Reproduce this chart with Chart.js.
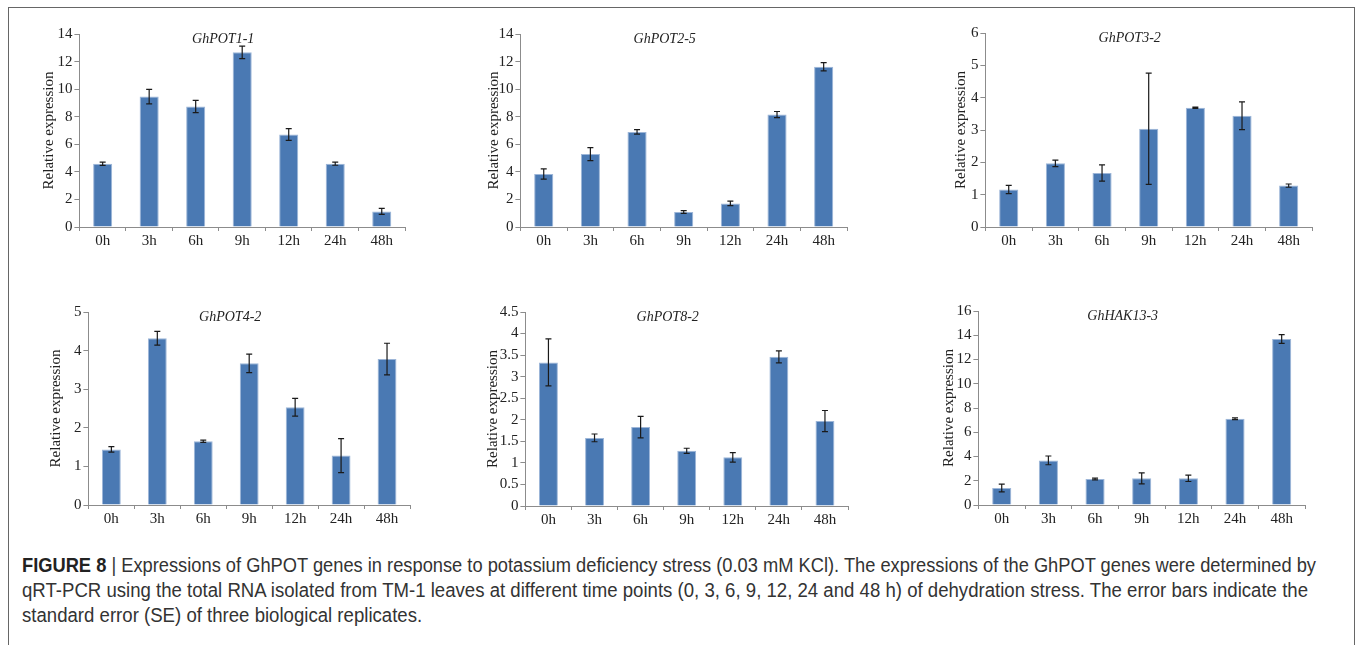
<!DOCTYPE html>
<html>
<head>
<meta charset="utf-8">
<script src="https://cdn.jsdelivr.net/npm/chart.js@4.4.1/dist/chart.umd.min.js"></script>
<style>
  body { margin: 0; background: #fff; width: 1358px; height: 645px; overflow: hidden; position: relative; }
  #frame { position: absolute; left: 8px; top: 7px; width: 1347px; height: 700px; border: 1px solid #666; box-sizing: border-box; }
  canvas { position: absolute; }
  #caption {
    position: absolute; left: 22px; top: 553px;
    font-family: "Liberation Sans", Arial, sans-serif;
    font-size: 20px; line-height: 25px; color: #333;
  }
  #caption span { display: block; white-space: nowrap; transform-origin: 0 50%; width: max-content; }
  #caption b { color: #222; }
</style>
</head>
<body>
<div id="frame"></div>
<div id="caption">
  <span data-w="1294"><b>FIGURE 8</b> | Expressions of GhPOT genes in response to potassium deficiency stress (0.03 mM KCl). The expressions of the GhPOT genes were determined by</span>
  <span data-w="1286">qRT-PCR using the total RNA isolated from TM-1 leaves at different time points (0, 3, 6, 9, 12, 24 and 48 h) of dehydration stress. The error bars indicate the</span>
  <span>standard error (SE) of three biological replicates.</span>
</div>
<script>
const timePoints = ['0h', '3h', '6h', '9h', '12h', '24h', '48h'];
const genes = ['GhPOT1-1', 'GhPOT2-5', 'GhPOT3-2', 'GhPOT4-2', 'GhPOT8-2', 'GhHAK13-3'];

const pot11 = [4.59, 9.46, 8.74, 12.67, 6.71, 4.59, 1.13];
const pot11Err = [0.12, 0.53, 0.45, 0.45, 0.42, 0.11, 0.22];
const pot25 = [3.84, 5.29, 6.90, 1.09, 1.71, 8.16, 11.63];
const pot25Err = [0.37, 0.47, 0.17, 0.10, 0.16, 0.22, 0.30];
const pot32 = [1.16, 1.97, 1.67, 3.04, 3.69, 3.44, 1.28];
const pot32Err = [0.13, 0.10, 0.25, 1.72, 0.02, 0.43, 0.05];
const pot42 = [1.44, 4.32, 1.65, 3.67, 2.53, 1.28, 3.78];
const pot42Err = [0.07, 0.18, 0.03, 0.24, 0.23, 0.44, 0.41];
const pot82 = [3.33, 1.58, 1.83, 1.28, 1.13, 3.46, 1.97];
const pot82Err = [0.545, 0.09, 0.25, 0.06, 0.11, 0.14, 0.245];
const hak133 = [1.40, 3.68, 2.14, 2.20, 2.20, 7.11, 13.69];
const hak133Err = [0.32, 0.36, 0.07, 0.45, 0.26, 0.07, 0.36];

const seriesValues = [pot11, pot25, pot32, pot42, pot82, hak133];
const seriesErrors = [pot11Err, pot25Err, pot32Err, pot42Err, pot82Err, hak133Err];
const yMax = [14, 14, 6, 5, 4.5, 16];
const yStep = [2, 2, 1, 0.5, 0.5, 2];

// where each panel sits on the page
const panels = [
  { plotL: 79, plotR: 405, top: 34, bottom: 227, titleX: 48 },
  { plotL: 520, plotR: 847, top: 34, bottom: 227, titleX: 493 },
  { plotL: 985, plotR: 1312, top: 33, bottom: 227, titleX: 960 },
  { plotL: 88, plotR: 410, top: 312, bottom: 505, titleX: 55 },
  { plotL: 525, plotR: 848, top: 312, bottom: 506, titleX: 492 },
  { plotL: 978, plotR: 1305, top: 311, bottom: 505, titleX: 948 }
];

const serif = '"Liberation Serif", "Times New Roman", serif';
const axisGray = '#8c8c8c';

// squeeze caption lines to the condensed width of the original
let squeeze = 1;
document.querySelectorAll('#caption span').forEach(s => {
  const w = s.getBoundingClientRect().width;
  if (s.dataset.w) squeeze = parseFloat(s.dataset.w) / w;
  s.style.transform = 'scaleX(' + squeeze + ')';
});

function errorBarPlugin(errs) {
  return {
    id: 'errorBars',
    afterDatasetsDraw(chart) {
      const ctx = chart.ctx;
      const y = chart.scales.y;
      const vals = chart.data.datasets[0].data;
      ctx.save();
      ctx.strokeStyle = '#1a1a1a';
      ctx.lineWidth = 1.2;
      chart.getDatasetMeta(0).data.forEach((bar, i) => {
        const hi = y.getPixelForValue(vals[i] + errs[i]);
        const lo = y.getPixelForValue(vals[i] - errs[i]);
        ctx.beginPath();
        ctx.moveTo(bar.x, hi); ctx.lineTo(bar.x, lo);
        ctx.moveTo(bar.x - 3, hi); ctx.lineTo(bar.x + 3, hi);
        ctx.moveTo(bar.x - 3, lo); ctx.lineTo(bar.x + 3, lo);
        ctx.stroke();
      });
      ctx.restore();
    }
  };
}

function geneTitlePlugin(name) {
  return {
    id: 'geneTitle',
    afterDraw(chart) {
      const a = chart.chartArea;
      const ctx = chart.ctx;
      ctx.save();
      ctx.font = 'italic 14px ' + serif;
      ctx.fillStyle = '#222';
      ctx.textAlign = 'center';
      ctx.textBaseline = 'middle';
      ctx.fillText(name, (a.left + a.right) / 2 - 19, a.top + 5);
      ctx.restore();
    }
  };
}

panels.forEach((p, k) => {
  const left = p.titleX - 8.4;
  const top = p.top - 14;
  const width = Math.round(p.plotR - left + 18);
  const height = Math.round(p.bottom - top + 30);

  const canvas = document.createElement('canvas');
  canvas.width = width;
  canvas.height = height;
  canvas.style.left = left + 'px';
  canvas.style.top = top + 'px';
  canvas.style.width = width + 'px';
  canvas.style.height = height + 'px';
  document.body.appendChild(canvas);

  new Chart(canvas.getContext('2d'), {
    type: 'bar',
    data: {
      labels: timePoints,
      datasets: [{
        data: seriesValues[k],
        backgroundColor: '#4a79b3',
        borderColor: '#9db6d8',
        borderWidth: 1,
        categoryPercentage: 1,
        barPercentage: 0.41
      }]
    },
    options: {
      responsive: false,
      animation: false,
      layout: { padding: { left: 0, top: 14, right: 18, bottom: 0 } },
      plugins: { legend: { display: false }, tooltip: { enabled: false } },
      scales: {
        x: {
          grid: { display: true, drawOnChartArea: false, drawTicks: true, tickLength: 4, color: axisGray },
          border: { display: true, color: axisGray },
          ticks: { color: '#222', font: { family: serif, size: 15 }, padding: 1, maxRotation: 0 },
          afterFit(scale) { scale.height = 30; }
        },
        y: {
          min: 0,
          max: yMax[k],
          grid: { display: true, drawOnChartArea: false, drawTicks: true, tickLength: 5, color: axisGray },
          border: { display: true, color: axisGray },
          ticks: {
            stepSize: yStep[k], color: '#222', font: { family: serif, size: 15 }, padding: 2,
            callback: v => String(Math.round(v * 10) / 10)
          },
          title: { display: true, text: 'Relative expression', color: '#222', font: { family: serif, size: 15 }, padding: 0 },
          afterFit(scale) { scale.width = p.plotL - left; }
        }
      }
    },
    plugins: [errorBarPlugin(seriesErrors[k]), geneTitlePlugin(genes[k])]
  });
});
</script>
</body>
</html>
